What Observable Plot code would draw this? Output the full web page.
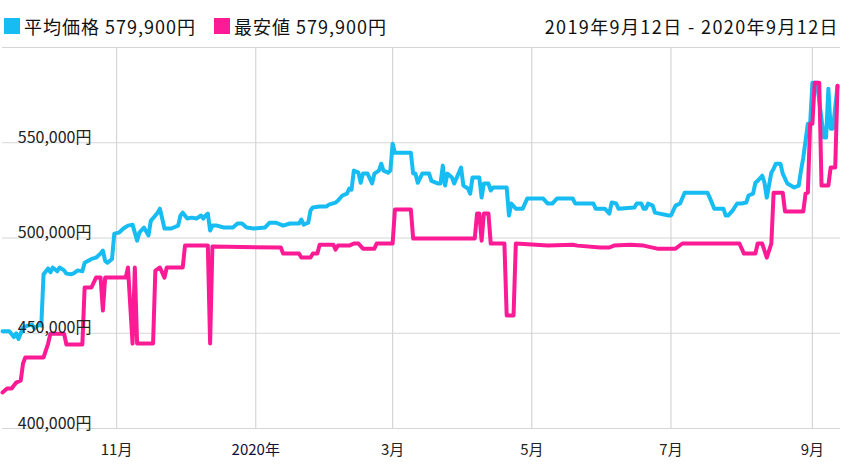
<!DOCTYPE html>
<html>
<head>
<meta charset="utf-8">
<script src="https://cdn.jsdelivr.net/npm/d3@7"></script>
<script src="https://cdn.jsdelivr.net/npm/@observablehq/plot@0.6"></script>
<style>
  html, body { margin: 0; padding: 0; background: #fff; }
  #wrap { width: 847px; height: 476px; position: relative; font-family: "Noto Sans CJK JP", "Noto Sans", sans-serif; }
  #legend { position: relative; height: 40px; font-size: 18px; color: #111; }
  #legend .sw { position: absolute; top: 18px; width: 16px; height: 16px; }
  #legend .tx { position: absolute; top: 14px; line-height: 24px; letter-spacing: 1px; white-space: nowrap; }
</style>
</head>
<body>
<div id="wrap">
  <div id="legend"></div>
  <div id="chart"></div>
</div>
<script>
// ---- data ----
const seriesNames = ["平均価格", "最安値"];
const seriesColors = ["#17bdf2", "#fd1b95"];
const currentPrice = "579,900円";
const dateRangeText = "2019年9月12日 - 2020年9月12日";

const avgDates = ["2019-09-12","2019-09-15","2019-09-17","2019-09-18","2019-09-19","2019-09-21","2019-09-23","2019-09-25","2019-09-26","2019-09-28","2019-09-29","2019-09-30",
"2019-10-02","2019-10-03","2019-10-04","2019-10-06","2019-10-07","2019-10-09","2019-10-10","2019-10-12","2019-10-13","2019-10-15","2019-10-17","2019-10-18","2019-10-21","2019-10-23","2019-10-25","2019-10-26","2019-10-27","2019-10-28","2019-10-30","2019-10-31",
"2019-11-02","2019-11-04","2019-11-06","2019-11-08","2019-11-10","2019-11-11","2019-11-13","2019-11-15","2019-11-16","2019-11-18","2019-11-19","2019-11-20","2019-11-22","2019-11-25","2019-11-28","2019-11-29","2019-11-30",
"2019-12-02","2019-12-04","2019-12-06","2019-12-08","2019-12-09","2019-12-10","2019-12-11","2019-12-12","2019-12-13","2019-12-15","2019-12-18","2019-12-22","2019-12-24","2019-12-26","2019-12-28","2019-12-31",
"2020-01-05","2020-01-07","2020-01-10","2020-01-13","2020-01-16","2020-01-20","2020-01-21","2020-01-22","2020-01-24","2020-01-25","2020-01-26","2020-01-29",
"2020-02-01","2020-02-02","2020-02-05","2020-02-06","2020-02-08","2020-02-10","2020-02-11","2020-02-12","2020-02-13","2020-02-15","2020-02-16","2020-02-17","2020-02-19","2020-02-21","2020-02-22","2020-02-24","2020-02-25","2020-02-26","2020-02-28","2020-02-29",
"2020-03-01","2020-03-02","2020-03-09","2020-03-10","2020-03-11","2020-03-12","2020-03-14","2020-03-17","2020-03-18","2020-03-21","2020-03-22","2020-03-23","2020-03-24","2020-03-25","2020-03-27","2020-03-28","2020-03-31",
"2020-04-01","2020-04-03","2020-04-04","2020-04-05","2020-04-08","2020-04-09","2020-04-10","2020-04-12","2020-04-13","2020-04-14","2020-04-20","2020-04-21","2020-04-22","2020-04-24","2020-04-27","2020-04-29",
"2020-05-06","2020-05-08","2020-05-10","2020-05-12","2020-05-19","2020-05-20","2020-05-28","2020-05-29",
"2020-06-02","2020-06-04","2020-06-05","2020-06-07","2020-06-08","2020-06-15","2020-06-16","2020-06-18","2020-06-19","2020-06-20","2020-06-21","2020-06-23","2020-06-24","2020-06-26","2020-06-30",
"2020-07-01","2020-07-03","2020-07-05","2020-07-07","2020-07-17","2020-07-18","2020-07-20","2020-07-24","2020-07-25","2020-07-26","2020-07-28","2020-07-30",
"2020-08-01","2020-08-03","2020-08-04","2020-08-06","2020-08-07","2020-08-08","2020-08-10","2020-08-11","2020-08-12","2020-08-14","2020-08-15","2020-08-16","2020-08-18","2020-08-19","2020-08-21","2020-08-24","2020-08-26","2020-08-27","2020-08-28","2020-08-30","2020-08-31",
"2020-09-01","2020-09-03","2020-09-06","2020-09-07","2020-09-08","2020-09-09","2020-09-10","2020-09-12"];
const avgValues = [451000,451000,448000,450000,447000,453000,454000,454500,452500,454500,454000,481000,
484000,482000,484500,482500,484500,483000,481300,481000,481300,483000,482500,487000,489000,489700,491800,493400,488000,487000,489000,502300,
502800,505000,506500,507000,498600,502800,505500,501300,509000,511800,513300,515400,505000,505000,506500,511800,513300,
510200,510700,510200,511800,510200,511800,512800,503900,506500,506500,505500,505500,507600,507600,505500,505000,
505500,508000,508000,506500,507600,507600,509700,507000,508000,514400,516000,516500,
516500,517500,518600,519600,522300,523300,526000,525400,535400,534300,529000,533800,533800,528600,533800,535400,539000,535400,534300,535400,
549500,544800,544800,533800,533800,529000,533800,533800,530000,528600,528600,538000,527500,533800,531700,528600,537000,
527500,526000,523300,531700,531700,521200,528600,528600,524900,526500,526500,511800,518100,515400,515400,520700,
520700,518100,518100,520700,520700,518100,518100,515400,
515400,512800,518600,518100,515400,516000,518100,518100,515400,515400,518100,517000,513300,512800,511800,
511800,517000,518100,523800,523800,521200,515400,515400,511800,511800,514400,518100,
518100,518600,522300,523300,529000,530000,532700,529000,521200,534300,536400,539000,539000,533800,528600,526500,527500,535400,542200,560000,560000,
581500,581500,552700,552700,578400,557400,557400,579900];

const minDates = ["2019-09-12","2019-09-14","2019-09-16","2019-09-18","2019-09-20","2019-09-21","2019-09-22","2019-09-30",
"2019-10-02","2019-10-03","2019-10-09","2019-10-10","2019-10-17","2019-10-18","2019-10-21","2019-10-23","2019-10-25","2019-10-26","2019-10-27",
"2019-11-05","2019-11-06","2019-11-08","2019-11-09","2019-11-10","2019-11-17","2019-11-18","2019-11-20","2019-11-22","2019-11-23","2019-11-30",
"2019-12-01","2019-12-11","2019-12-12","2019-12-13",
"2020-01-12","2020-01-13","2020-01-20","2020-01-21","2020-01-25","2020-01-26","2020-01-28","2020-01-29",
"2020-02-04","2020-02-05","2020-02-06","2020-02-11","2020-02-13","2020-02-15","2020-02-17","2020-02-22","2020-02-23",
"2020-03-01","2020-03-02","2020-03-09","2020-03-10",
"2020-04-06","2020-04-07","2020-04-08","2020-04-09","2020-04-10","2020-04-12","2020-04-13","2020-04-19","2020-04-20","2020-04-23","2020-04-24",
"2020-05-08","2020-05-19","2020-05-21","2020-05-31",
"2020-06-04","2020-06-06","2020-06-13","2020-06-19","2020-06-25",
"2020-07-03","2020-07-06","2020-07-31",
"2020-08-02","2020-08-07","2020-08-08","2020-08-10","2020-08-12","2020-08-13","2020-08-14","2020-08-15","2020-08-19","2020-08-20","2020-08-28","2020-08-29","2020-08-30","2020-08-31",
"2020-09-01","2020-09-02","2020-09-04","2020-09-05","2020-09-08","2020-09-09","2020-09-11","2020-09-12"];
const minValues = [418900,421000,421000,424100,425200,434100,437300,437300,
444600,449800,449800,444100,444100,474000,474000,479200,479200,461900,479200,
479200,484500,444600,484500,444600,444600,482900,484500,479200,484500,484500,
496000,496000,444600,495500,
495000,491800,491800,489700,489700,491800,491800,496500,
496500,493900,496000,496000,497100,497100,494400,494400,497100,
497100,514900,514900,499700,
499700,512800,512800,498600,512800,512800,497100,497100,459300,459300,497100,
496000,496500,496000,495000,
495000,496000,496500,496000,494400,
494400,497100,497100,
491800,491800,497100,497100,489700,493400,497100,523800,523800,513900,513900,523300,523800,560000,
560000,581500,581500,527500,527500,537000,537000,579900];

const yGrid = [400000, 450000, 500000, 550000, 600000];
const yTicks = [400000, 450000, 500000, 550000];
const xTickDates = ["2019-11-01","2020-01-01","2020-03-01","2020-05-01","2020-07-01","2020-09-01"];
const xTickLabels = ["11月","2020年","3月","5月","7月","9月"];
const xDomain = ["2019-09-12","2020-09-12"];

// ---- build tables ----
const avg = avgDates.map((d, i) => ({date: new Date(d), value: avgValues[i]}));
const mins = minDates.map((d, i) => ({date: new Date(d), value: minValues[i]}));
const xTicks = xTickDates.map((d, i) => ({date: new Date(d), label: xTickLabels[i]}));
const yen = d => d3.format(",")(d) + "円";

// ---- legend ----
const legend = document.getElementById("legend");
legend.innerHTML =
  `<span class="sw" style="left:4px;background:${seriesColors[0]}"></span>` +
  `<span class="tx" style="left:24px">${seriesNames[0]} ${currentPrice}</span>` +
  `<span class="sw" style="left:214px;background:${seriesColors[1]}"></span>` +
  `<span class="tx" style="left:234px">${seriesNames[1]} ${currentPrice}</span>` +
  `<span class="tx" style="right:8px;letter-spacing:1.4px">${dateRangeText}</span>`;

// ---- chart ----
const chart = Plot.plot({
  width: 847,
  height: 436,
  marginTop: 7,
  marginBottom: 48,
  marginLeft: 2,
  marginRight: 7,
  style: {fontFamily: "'Noto Sans CJK JP', 'Noto Sans', sans-serif", fontSize: "15px", background: "#fff", color: "#222"},
  x: {type: "utc", domain: xDomain.map(d => new Date(d)), range: [2, 837], axis: null},
  y: {domain: [400000, 600000], axis: null},
  marks: [
    Plot.ruleY(yGrid, {stroke: "#d6d6d6", strokeWidth: 1.2}),
    Plot.ruleX(xTicks, {x: "date", stroke: "#d6d6d6", strokeWidth: 1.2}),
    Plot.lineY(avg, {x: "date", y: "value", stroke: seriesColors[0], strokeWidth: 4}),
    Plot.lineY(mins, {x: "date", y: "value", stroke: seriesColors[1], strokeWidth: 4}),
    Plot.text(yTicks, {y: d => d, text: yen, frameAnchor: "left", dx: 89, textAnchor: "end", lineAnchor: "bottom", dy: 0, fill: "#222", fontSize: 16}),
    Plot.text(xTicks, {x: "date", text: "label", frameAnchor: "bottom", dy: 22, lineAnchor: "middle", fill: d => d.label === "2020年" ? "#10103a" : "#222", fontSize: 15})
  ]
});
document.getElementById("chart").appendChild(chart);
</script>
</body>
</html>
